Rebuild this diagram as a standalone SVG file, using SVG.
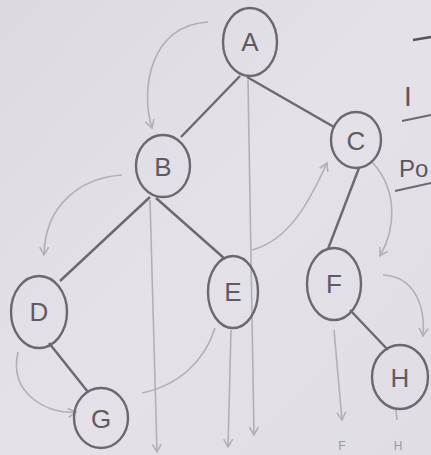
<svg xmlns="http://www.w3.org/2000/svg" width="431" height="455" viewBox="0 0 431 455">
<defs>
<linearGradient id="paper" x1="0" y1="0" x2="1" y2="1">
<stop offset="0" stop-color="#dcd9e0"/>
<stop offset="0.5" stop-color="#e4e1e8"/>
<stop offset="1" stop-color="#e0dde5"/>
</linearGradient>
<marker id="ah" viewBox="0 0 10 10" refX="8" refY="5" markerWidth="7" markerHeight="7" orient="auto">
<path d="M1,1 L8,5 L1,9" fill="none" stroke="#b2afb6" stroke-width="1.4"/>
</marker>
</defs>
<style>
.node ellipse{fill:none;stroke:#6b6870;stroke-width:2.4}
.node text{font-family:"Liberation Sans",Arial,sans-serif;font-size:26px;fill:#5e5b62;text-anchor:middle;dominant-baseline:central}
.edge{stroke:#6b6870;stroke-width:2.4;fill:none}
.trav{stroke:#b2afb6;stroke-width:1.6;fill:none}
.note{font-family:"Liberation Sans",Arial,sans-serif}
.dark{fill:#5a575e}
.faint{fill:#9a97a0}
</style>
<rect width="431" height="455" fill="url(#paper)"/>
<g id="connectors">
<line class="edge" x1="240" y1="76" x2="181" y2="137"/>
<line class="edge" x1="247" y1="77" x2="334" y2="127"/>
<line class="edge" x1="150" y1="197" x2="60" y2="281"/>
<line class="edge" x1="156" y1="198" x2="225" y2="259"/>
<line class="edge" x1="359" y1="168" x2="328" y2="249"/>
<line class="edge" x1="49" y1="343" x2="88" y2="392"/>
<line class="edge" x1="350" y1="310" x2="388" y2="350"/>
<path class="trav" d="M208,22 C150,25 140,90 152,128" marker-end="url(#ah)"/>
<path class="trav" d="M122,175 C80,178 45,205 44,255" marker-end="url(#ah)"/>
<path class="trav" d="M18,352 C8,395 50,415 76,412" marker-end="url(#ah)"/>
<path class="trav" d="M142,393 C180,385 205,360 215,328"/>
<path class="trav" d="M252,250 C290,240 310,200 327,163" marker-end="url(#ah)"/>
<path class="trav" d="M372,162 C398,190 396,228 380,256" marker-end="url(#ah)"/>
<path class="trav" d="M383,275 C410,276 426,300 423,336" marker-end="url(#ah)"/>
<path class="trav" d="M248,80 L254,435" marker-end="url(#ah)"/>
<path class="trav" d="M150,200 L157,452" marker-end="url(#ah)"/>
<path class="trav" d="M231,330 L228,447" marker-end="url(#ah)"/>
<path class="trav" d="M334,330 L342,420" marker-end="url(#ah)"/>
<path class="trav" d="M396,410 L397,420"/>
</g>
<g id="node-A" class="node"><ellipse cx="250" cy="42" rx="27" ry="34"/><text x="250" y="42">A</text></g>
<g id="node-B" class="node"><ellipse cx="163" cy="166" rx="27" ry="31"/><text x="163" y="167">B</text></g>
<g id="node-C" class="node"><ellipse cx="356" cy="140" rx="25" ry="28"/><text x="356" y="141">C</text></g>
<g id="node-D" class="node"><ellipse cx="39" cy="312" rx="28" ry="36"/><text x="39" y="312">D</text></g>
<g id="node-E" class="node"><ellipse cx="233" cy="292" rx="25" ry="36"/><text x="233" y="292">E</text></g>
<g id="node-F" class="node"><ellipse cx="334" cy="284" rx="27" ry="36"/><text x="334" y="284">F</text></g>
<g id="node-G" class="node"><ellipse cx="101" cy="418" rx="27" ry="30"/><text x="101" y="419">G</text></g>
<g id="node-H" class="node"><ellipse cx="400" cy="377" rx="28" ry="32"/><text x="400" y="378">H</text></g>
<g id="notes">
<line x1="413" y1="40" x2="431" y2="37" stroke="#55525a" stroke-width="2.4"/>
<text class="note dark" x="404" y="106" font-size="28">I</text>
<line x1="402" y1="121" x2="431" y2="115" stroke="#6b6870" stroke-width="2"/>
<text class="note dark" x="399" y="177" font-size="24">Po</text>
<line x1="395" y1="191" x2="431" y2="183" stroke="#6b6870" stroke-width="2"/>
<text class="note faint" x="342" y="450" font-size="12" text-anchor="middle">F</text>
<text class="note faint" x="398" y="450" font-size="12" text-anchor="middle">H</text>
</g>
</svg>
